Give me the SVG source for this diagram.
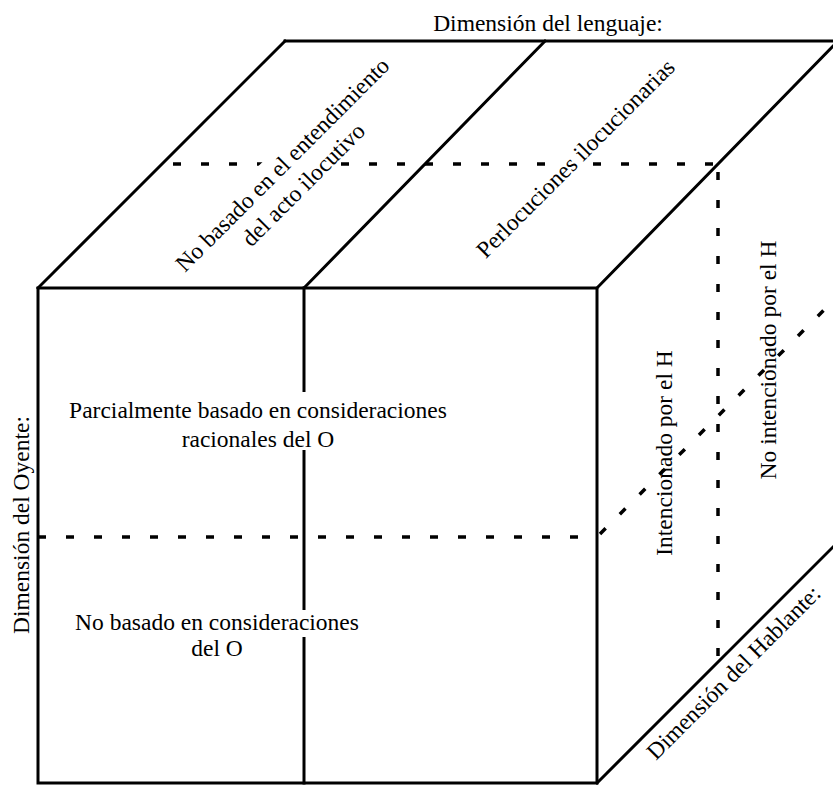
<svg xmlns="http://www.w3.org/2000/svg" width="833" height="785" viewBox="0 0 833 785">
<style>
.s{stroke:#000;stroke-width:3;fill:none;stroke-linecap:square}
.d{stroke:#000;stroke-width:3.5;fill:none;stroke-dasharray:8 20}
.t{font-family:"Liberation Serif",serif;font-size:23.5px;fill:#000}
.m{text-anchor:middle}
.bg{fill:#fff}
</style>
<rect width="833" height="785" fill="#fff"/>
<g id="connectors">
<line class="d" x1="173" y1="164" x2="720" y2="164"/>
<line class="d" x1="718" y1="172" x2="718" y2="662"/>
<line class="d" x1="38" y1="537" x2="597" y2="537"/>
<line class="d" x1="600" y1="534" x2="844" y2="290"/>
<polygon class="s" points="38,288 597,288 597,783 38,783"/>
<line class="s" x1="304" y1="288" x2="304" y2="783"/>
<line class="s" x1="38" y1="288" x2="285" y2="41"/>
<line class="s" x1="304" y1="288" x2="545" y2="41"/>
<line class="s" x1="597" y1="288" x2="838" y2="41"/>
<line class="s" x1="285" y1="41" x2="840" y2="41"/>
<line class="s" x1="597" y1="783" x2="844" y2="536"/>
</g>
<g id="lenguaje"><text class="t m" x="548" y="31">Dimensión del lenguaje:</text></g>
<g id="oyente"><text class="t m" transform="translate(29,525) rotate(-90)">Dimensión del Oyente:</text></g>
<g id="hablante"><text class="t m" transform="translate(739,678) rotate(-45)">Dimensión del Hablante:</text></g>
<g id="no-basado-entendimiento">
<rect class="bg" x="-122" y="-18" width="244" height="50" transform="translate(288,162) rotate(-45)"/>
<text class="t m" transform="translate(288,170) rotate(-45)">No basado en el entendimiento</text>
<text class="t m" transform="translate(309,190) rotate(-45)">del acto ilocutivo</text>
</g>
<g id="perlocuciones">
<rect class="bg" x="-135" y="-18" width="270" height="24" transform="translate(581,164) rotate(-45)"/>
<text class="t m" transform="translate(581,164) rotate(-45)">Perlocuciones ilocucionarias</text>
</g>
<g id="parcialmente">
<rect class="bg" x="68" y="392" width="380" height="58"/>
<text class="t m" x="258" y="418">Parcialmente basado en consideraciones</text>
<text class="t m" x="258" y="447">racionales del O</text>
</g>
<g id="no-basado">
<rect class="bg" x="74" y="610" width="288" height="27"/>
<text class="t m" x="217" y="630">No basado en consideraciones</text>
<text class="t m" x="217" y="656">del O</text>
</g>
<g id="intencionado"><text class="t m" transform="translate(672,453) rotate(-90)">Intencionado por el H</text></g>
<g id="no-intencionado"><text class="t m" transform="translate(776,360) rotate(-90)">No intencionado por el H</text></g>
</svg>
